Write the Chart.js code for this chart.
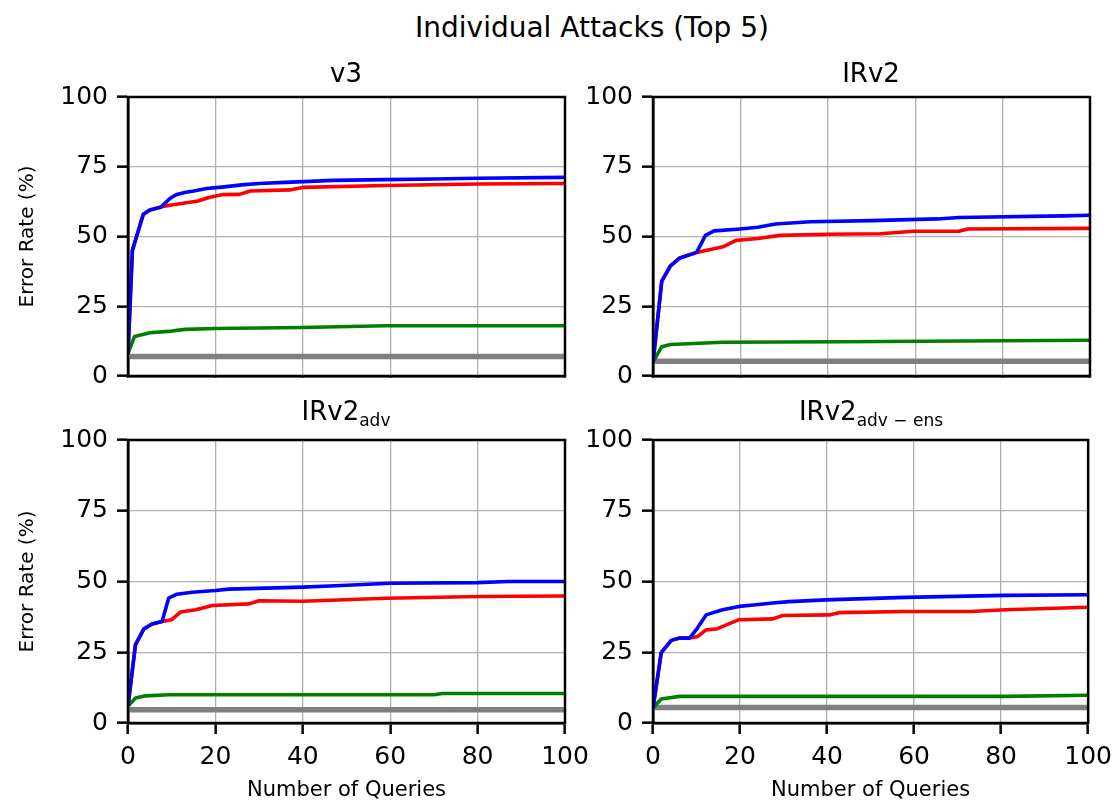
<!DOCTYPE html>
<html>
<head>
<meta charset="utf-8">
<script src="https://cdn.jsdelivr.net/npm/chart.js@4.4.1/dist/chart.umd.min.js"></script>
<style>
  body { margin: 0; background: #fff; }
  #fig { position: relative; width: 1120px; height: 804px; background: #fff; overflow: hidden; font-family: 'DejaVu Sans', sans-serif; color: #000; }
  #fig canvas { position: absolute; }
  .t { position: absolute; transform: translate(-50%, -50%); white-space: nowrap; font-size: 26px; line-height: 1; }
  .t sub { font-size: 17px; vertical-align: -6px; }
</style>
</head>
<body>
<div id="fig">
  <canvas id="c1" width="600" height="330" style="left:0;top:70px;width:600px;height:330px"></canvas>
  <canvas id="c2" width="560" height="330" style="left:560px;top:70px;width:560px;height:330px"></canvas>
  <canvas id="c3" width="600" height="391" style="left:0;top:413px;width:600px;height:391px"></canvas>
  <canvas id="c4" width="560" height="391" style="left:560px;top:413px;width:560px;height:391px"></canvas>
  <div class="t" style="left:592px;top:28px;font-size:28px">Individual Attacks (Top 5)</div>
  <div class="t" style="left:346px;top:73px">v3</div>
  <div class="t" style="left:871px;top:73px">IRv2</div>
  <div class="t" style="left:346px;top:413px">IRv2<sub>adv</sub></div>
  <div class="t" style="left:871px;top:413px">IRv2<sub>adv − ens</sub></div>
</div>
<script>
// [queries, error rate %]
var v3Blue  = [[0,8],[1,45],[3.5,58],[5,59.5],[7.5,60.5],[9.5,63.5],[11,65],[13,65.8],[15,66.3],[18,67.2],[22,67.8],[26,68.5],[30,69],[36,69.4],[47,70.1],[59,70.4],[70,70.6],[80,70.9],[100,71.2]];
var v3Red   = [[0,8],[1,45],[3.5,58],[5,59.5],[8,60.8],[10,61.3],[13,62],[16,62.7],[18.5,64],[21.5,65],[25.5,65.1],[28,66.3],[37,66.7],[40,67.6],[59,68.3],[80,68.8],[100,69]];
var v3Green = [[0,8],[1.5,14.2],[5,15.5],[10,16.1],[13,16.7],[20,17],[40,17.4],[59,18],[100,18]];
var v3Gray  = [[0,7],[100,7]];

var irBlue  = [[0,4.8],[2,34],[4,39.5],[6,42.2],[10,44.3],[12,50.4],[14,52],[20,52.7],[24,53.3],[28,54.5],[36,55.3],[50,55.7],[65,56.3],[70,56.8],[94,57.4],[100,57.6]];
var irRed   = [[0,4.8],[2,34],[4,39.5],[6,42.2],[10,44.3],[16,46.3],[19,48.6],[24,49.3],[29,50.4],[40,50.8],[52,51],[59.5,51.9],[70,51.9],[72,52.7],[100,52.9]];
var irGreen = [[0,5],[2,10.5],[4,11.3],[16,12.1],[43,12.3],[100,12.8]];
var irGray  = [[0,5.3],[100,5.3]];

var advBlue  = [[0,5.9],[1.7,27.6],[3.6,33.2],[5.5,35],[7.8,35.9],[9.3,44.1],[11.2,45.5],[14.7,46.2],[20,46.8],[23,47.3],[40,48],[47.6,48.5],[60,49.4],[80,49.6],[87,50],[100,50]];
var advRed   = [[0,5.9],[1.7,27.6],[3.6,33.2],[5.5,35],[7.8,35.9],[10,36.5],[12,39.2],[15.5,40],[19.3,41.5],[27.7,42.1],[30,43.2],[40,43],[59,44.1],[80.5,44.7],[100,44.9]];
var advGreen = [[0,5.9],[1.7,8.8],[4,9.6],[9.3,10],[70,10],[72,10.4],[100,10.4]];
var advGray  = [[0,4.7],[100,4.7]];

var ensBlue  = [[0,5.3],[1.9,24.9],[4.2,29.2],[6.1,30],[8.4,30],[9.9,32.9],[12.2,38.2],[16,40],[19.8,41.2],[23.7,41.8],[27.5,42.4],[31.3,42.9],[39.7,43.5],[58,44.4],[81,45.1],[100,45.3]];
var ensRed   = [[0,5.3],[1.9,24.9],[4.2,29.2],[6.1,30],[8.4,30],[10.3,30.6],[12.2,32.9],[14.5,33.2],[19.8,36.5],[27.5,36.8],[29.8,38],[40.5,38.2],[42.7,39],[58,39.4],[73,39.4],[81,40],[100,40.9]];
var ensGreen = [[0,5.3],[1.9,8.5],[6.1,9.4],[81,9.4],[100,9.8]];
var ensGray  = [[0,5.5],[100,5.5]];

var xTicks = [0, 20, 40, 60, 80, 100];
var yTicks = [0, 25, 50, 75, 100];

var font = "'DejaVu Sans', sans-serif";

// box around the plot area (matplotlib spines)
var frame = {
  id: 'frame',
  afterDatasetsDraw: function(chart) {
    var a = chart.chartArea, c = chart.ctx;
    c.save();
    c.strokeStyle = '#000';
    c.lineWidth = 2.5;
    c.strokeRect(a.left, a.top, a.right - a.left, a.bottom - a.top);
    c.restore();
  }
};

function pts(arr) { return arr.map(function(p) { return { x: p[0], y: p[1] }; }); }

function panel(id, series, o) {
  var ctx = document.getElementById(id).getContext('2d');
  return new Chart(ctx, {
    type: 'line',
    data: {
      datasets: [
        { data: pts(series[0]), borderColor: '#0000ff', borderWidth: 3.6 },
        { data: pts(series[1]), borderColor: '#ff0000', borderWidth: 3.6 },
        { data: pts(series[2]), borderColor: '#008000', borderWidth: 3.6 },
        { data: pts(series[3]), borderColor: '#808080', borderWidth: 5.5 }
      ]
    },
    options: {
      responsive: false,
      animation: false,
      events: [],
      elements: { point: { radius: 0 }, line: { tension: 0, borderJoinStyle: 'round', borderCapStyle: 'butt' } },
      layout: { padding: { top: 27, right: o.right, bottom: 0, left: 0 } },
      plugins: { legend: { display: false }, tooltip: { enabled: false } },
      scales: {
        x: {
          type: 'linear', min: 0, max: 100,
          afterBuildTicks: function(s) { s.ticks = xTicks.map(function(v) { return { value: v }; }); },
          afterFit: function(s) { s.height = o.xh; },
          grid: { color: '#b0b0b0', lineWidth: 1.3, tickColor: '#000', tickLength: o.xLabels ? 11 : 0, tickWidth: 2.5 },
          border: { color: '#000', width: 2.5 },
          ticks: { display: o.xLabels, color: '#000', padding: 8, maxRotation: 0, font: { family: font, size: 25 } },
          title: { display: o.xLabels, text: 'Number of Queries', color: '#000', padding: { top: 0, bottom: 1 }, font: { family: font, size: 21 } }
        },
        y: {
          type: 'linear', min: 0, max: 100,
          afterBuildTicks: function(s) { s.ticks = yTicks.map(function(v) { return { value: v }; }); },
          afterFit: function(s) { s.width = o.yw; },
          grid: { color: '#b0b0b0', lineWidth: 1.3, tickColor: '#000', tickLength: 11, tickWidth: 2.5 },
          border: { color: '#000', width: 2.5 },
          ticks: { color: '#000', padding: 9, font: { family: font, size: 25 } },
          title: { display: o.yTitle, text: 'Error Rate (%)', color: '#000', padding: { top: 16, bottom: 0 }, font: { family: font, size: 20 } }
        }
      }
    },
    plugins: [frame]
  });
}

panel('c1', [v3Blue, v3Red, v3Green, v3Gray], { right: 35, yw: 128, xh: 18, xLabels: false, yTitle: true });
panel('c2', [irBlue, irRed, irGreen, irGray], { right: 30, yw: 93, xh: 18, xLabels: false, yTitle: false });
panel('c3', [advBlue, advRed, advGreen, advGray], { right: 35, yw: 128, xh: 81, xLabels: true, yTitle: true });
panel('c4', [ensBlue, ensRed, ensGreen, ensGray], { right: 30, yw: 93, xh: 81, xLabels: true, yTitle: false });
</script>
</body>
</html>
